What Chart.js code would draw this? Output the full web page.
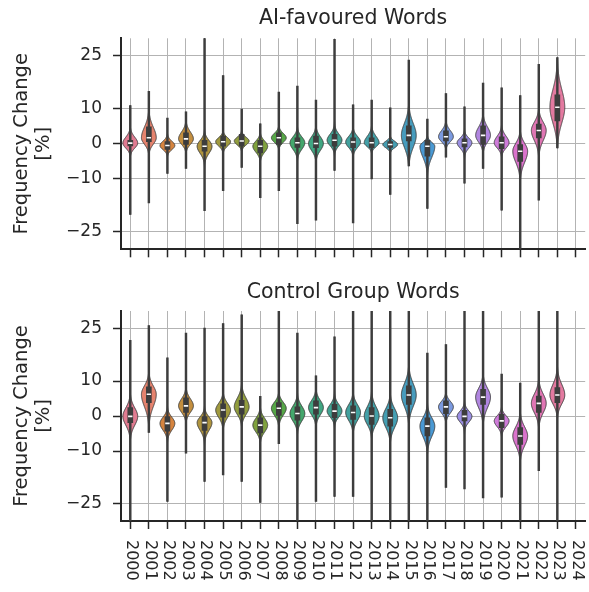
<!DOCTYPE html>
<html>
<head>
<meta charset="utf-8">
<script src="https://cdn.jsdelivr.net/npm/chart.js@4"></script>
<style>
  body { margin: 0; background: #fff; }
  canvas { display: block; }
</style>
</head>
<body>
<canvas id="aiChart" width="589" height="280"></canvas>
<canvas id="ctrlChart" width="589" height="312"></canvas>
<script>
// Violin plots of yearly frequency change, AI-favoured vs control words
// - one Chart.js chart per panel
// - whisker / box / median are floating bars + points
// - violin bodies drawn by a small plugin through the chart's own scales

const years = ['2000','2001','2002','2003','2004','2005','2006','2007','2008','2009','2010','2011',
               '2012','2013','2014','2015','2016','2017','2018','2019','2020','2021','2022','2023','2024'];
const yTicks = [25, 10, 0, -10, -25];

// ----- AI-favoured words (2024 has no data) -----
const aiMedian = [0.2, 1.7, -0.5, 1.4, -0.7, 0.6, 0.8, -0.7, 1.7, 0.3, 0.1, 1.0, 0.5, 0.3, -0.2, 2.4, -0.7, 2.0, 0.3, 2.4, 0.3, -2.1, 3.8, 10.4, null];
const aiQ1     = [-0.6, 0.6, -1.6, -0.2, -2.1, -0.7, -0.7, -2.6, -0.2, -1.0, -1.1, -0.7, -1.1, -1.1, -1.0, 0.8, -3.5, 0.8, -0.9, -0.2, -1.4, -5.0, 1.7, 6.5, null];
const aiQ3     = [1.0, 4.8, 0.6, 3.1, 1.0, 2.2, 2.7, 1.0, 3.1, 1.7, 2.2, 2.7, 1.7, 1.7, 0.6, 5.1, 1.0, 3.7, 1.4, 5.1, 2.0, -0.2, 5.6, 13.9, null];
const aiLow    = [-20.1, -16.8, -8.4, -7.0, -19.0, -13.3, -6.7, -15.3, -13.3, -22.7, -21.7, -7.6, -22.5, -10.0, -14.4, -6.3, -18.4, -3.8, -11.2, -7.0, -18.9, -32, -16.0, -1.2, null];
const aiHigh   = [10.9, 14.9, 7.3, 9.1, 32, 19.4, 9.9, 5.7, 14.7, 16.4, 12.4, 29.7, 11.1, 12.4, 10.2, 23.8, 7.0, 14.3, 10.5, 17.3, 15.9, 13.7, 22.6, 24.5, null];
const aiBodyLo = [-3.5, -3.0, -3.5, -2.6, -5.9, -2.6, -2.1, -5.0, -1.6, -4.5, -5.0, -3.0, -3.5, -2.6, -2.6, -6.4, -8.8, -1.6, -3.6, -2.6, -3.6, -10.3, -3.6, -1.2, null];
const aiBodyHi = [4.6, 9.5, 2.7, 6.5, 3.6, 3.6, 3.6, 3.1, 5.0, 4.6, 5.0, 5.5, 4.6, 5.0, 2.2, 11.2, 2.2, 6.5, 3.7, 8.5, 5.1, 3.7, 9.9, 23.4, null];

// ----- Control group words -----
const ctrlMedian = [-0.1, 6.2, -2.1, 2.9, -1.9, 1.7, 2.6, -2.6, 2.2, 0.7, 2.4, 1.4, 1.0, 0.0, -0.5, 6.0, -2.9, 2.6, -0.1, 5.4, -1.4, -5.7, 3.6, 6.0, null];
const ctrlQ1     = [-1.9, 3.8, -4.3, 1.0, -4.1, -0.3, 0.5, -4.8, 0.0, -1.2, 0.5, -0.5, -1.0, -2.4, -2.9, 3.3, -5.7, 0.7, -1.4, 3.3, -3.3, -8.1, 1.0, 3.8, null];
const ctrlQ3     = [2.4, 8.3, 0.0, 5.2, 0.0, 3.5, 4.5, -0.5, 3.8, 2.6, 4.3, 3.3, 2.9, 2.4, 1.9, 8.6, -0.5, 4.3, 1.6, 7.6, 0.5, -3.3, 5.7, 8.1, null];
const ctrlLow    = [-32, -4.7, -24.4, -10.6, -18.7, -16.8, -18.7, -24.7, -7.9, -32, -24.4, -23.0, -23.0, -32, -32, -32, -32, -20.4, -20.8, -23.4, -23.2, -32, -15.6, -32, null];
const ctrlHigh   = [21.6, 25.8, 16.6, 23.7, 25.1, 26.4, 28.9, 5.6, 32, 23.7, 11.5, 22.6, 32, 32, 32, 32, 18.0, 20.4, 32, 32, 12.0, 9.4, 32, 32, null];
const ctrlBodyLo = [-6.7, -2.9, -7.1, -1.9, -7.6, -3.8, -2.9, -7.6, -2.9, -4.8, -2.9, -2.9, -4.8, -6.2, -7.6, -2.4, -10.5, -1.9, -4.3, -2.4, -5.7, -12.9, -3.3, -0.5, null];
const ctrlBodyHi = [6.2, 12.4, 2.4, 8.1, 2.4, 6.7, 9.0, 2.4, 6.7, 6.2, 7.6, 6.2, 6.7, 6.7, 6.2, 14.3, 3.3, 6.7, 3.8, 11.9, 2.4, 1.0, 10.5, 13.8, null];

const palette = [
  '#e07b91', '#e5836e', '#d6843f', '#c48f3f', '#af943e', '#a09a3e', '#919d3e', '#7fa13e',
  '#56a747', '#44a76c', '#40a682', '#41a393', '#42a19e', '#43a0a8', '#459eb2', '#479cbd',
  '#4a99d3', '#7b9ae0', '#9b8fe3', '#b186e0', '#cf7bda', '#da73cc', '#e076b4', '#e37aa0'
];

const INK = '#262626';
const GRID = '#b3b3b3';
const FONT = '"DejaVu Sans", sans-serif';

// -------- plugins --------
const violinPlugin = {
  id: 'violins',
  beforeDatasetsDraw(chart, args, opts) {
    const v = opts.data;
    if (!v) return;
    const xs = chart.scales.x, ys = chart.scales.y;
    const ctx = chart.ctx, area = chart.chartArea;
    const step = xs.getPixelForValue(1) - xs.getPixelForValue(0);
    ctx.save();
    ctx.beginPath();
    ctx.rect(area.left, area.top, area.right - area.left, area.bottom - area.top);
    ctx.clip();
    v.med.forEach((m, i) => {
      if (m === null) return;
      const cx = xs.getPixelForValue(i);
      const top = Math.min(v.hi[i], 31), bot = Math.max(v.lo[i], -31);
      // visible body end sits where the density has dropped to a few percent
      const sUp = (v.bodyHi[i] - m) / 2.6, sDn = (m - v.bodyLo[i]) / 2.6;
      const pts = [];
      const n = 400;
      for (let k = 0; k <= n; k++) {
        const val = bot + (top - bot) * k / n;
        const d = (val - m) / (val > m ? sUp : sDn);
        pts.push([ys.getPixelForValue(val), 0.4 * step * Math.exp(-0.5 * d * d)]);
      }
      ctx.beginPath();
      pts.forEach(([y, w], k) => k ? ctx.lineTo(cx + w, y) : ctx.moveTo(cx + w, y));
      for (let k = pts.length - 1; k >= 0; k--) ctx.lineTo(cx - pts[k][1], pts[k][0]);
      ctx.closePath();
      ctx.fillStyle = palette[i];
      ctx.fill();
      ctx.lineWidth = 1;
      ctx.strokeStyle = '#3c3c3c';
      ctx.stroke();
    });
    ctx.restore();
  }
};

// x labels read top-to-bottom, so they are drawn here
const yearLabelPlugin = {
  id: 'yearLabels',
  afterDraw(chart, args, opts) {
    if (!opts.show) return;
    const xs = chart.scales.x, ctx = chart.ctx;
    ctx.save();
    ctx.font = '16px ' + FONT;
    ctx.fillStyle = INK;
    ctx.textAlign = 'left';
    ctx.textBaseline = 'middle';
    years.forEach((yr, i) => {
      ctx.save();
      ctx.translate(xs.getPixelForTick(i) + 1, xs.top + 19);
      ctx.rotate(Math.PI / 2);
      ctx.fillText(yr, 0, 0);
      ctx.restore();
    });
    ctx.restore();
  }
};

function pairs(a, b) {
  return a.map((v, i) => (v === null ? null : [v, b[i]]));
}

function makeChart(id, title, titlePad, xHeight, showLabels, d) {
  return new Chart(document.getElementById(id), {
    type: 'bar',
    data: {
      labels: years,
      datasets: [
        {
          type: 'line', data: d.med, showLine: false, order: 0,
          pointStyle: 'line', pointRadius: 2.2, pointHoverRadius: 2.2,
          pointBorderColor: '#ffffff', pointBorderWidth: 1.6
        },
        {
          data: pairs(d.q1, d.q3), order: 1, grouped: false,
          barThickness: 5, backgroundColor: '#3d3d3d', borderWidth: 0
        },
        {
          data: pairs(d.lo, d.hi), order: 2, grouped: false,
          barThickness: 1.8, backgroundColor: '#3d3d3d', borderWidth: 0, clip: 0
        }
      ]
    },
    options: {
      responsive: false,
      animation: false,
      layout: { padding: { left: 0, right: 1, top: 0, bottom: 0 } },
      plugins: {
        legend: { display: false },
        tooltip: { enabled: false },
        title: {
          display: true, text: title, color: INK, fullSize: false,
          font: { family: FONT, size: 20.5, weight: 'normal', lineHeight: 1.2 },
          padding: titlePad
        },
        violins: { data: d },
        yearLabels: { show: showLabels }
      },
      scales: {
        x: {
          offset: true,
          grid: { offset: false, color: GRID, lineWidth: 1, tickColor: INK, tickLength: 8, tickWidth: 1.5 },
          border: { display: true, color: INK, width: 2 },
          ticks: { display: false },
          afterFit(scale) { scale.height = xHeight; }
        },
        y: {
          min: -30, max: 30,
          afterBuildTicks(scale) { scale.ticks = yTicks.map(v => ({ value: v })); },
          grid: { color: GRID, lineWidth: 1, tickColor: INK, tickLength: 8, tickWidth: 1.5 },
          border: { display: true, color: INK, width: 2 },
          ticks: {
            color: INK, padding: 11, font: { family: FONT, size: 17 },
            callback: v => (v < 0 ? '\u2212' + Math.abs(v) : String(v))
          },
          title: {
            display: true, text: ['Frequency Change', '[%]'], color: INK,
            font: { family: FONT, size: 19.5, lineHeight: 1.12 },
            padding: { top: 11, bottom: 0 }
          },
          afterFit(scale) { scale.width = 121; }
        }
      }
    },
    plugins: [violinPlugin, yearLabelPlugin]
  });
}

makeChart('aiChart', 'AI-favoured Words', { top: 6.7, bottom: 7 }, 30.7, false, {
  med: aiMedian, q1: aiQ1, q3: aiQ3, lo: aiLow, hi: aiHigh, bodyLo: aiBodyLo, bodyHi: aiBodyHi
});
makeChart('ctrlChart', 'Control Group Words', { top: 0, bottom: 6.4 }, 71, true, {
  med: ctrlMedian, q1: ctrlQ1, q3: ctrlQ3, lo: ctrlLow, hi: ctrlHigh, bodyLo: ctrlBodyLo, bodyHi: ctrlBodyHi
});
</script>
</body>
</html>
